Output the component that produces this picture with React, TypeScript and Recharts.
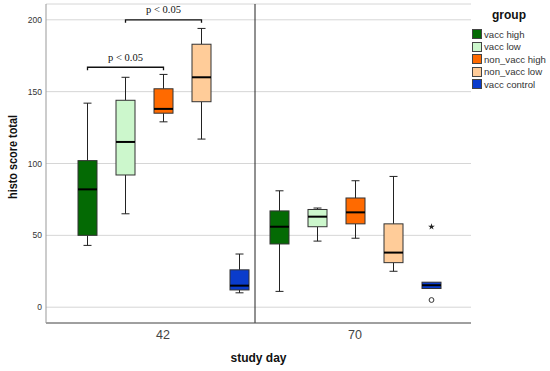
import { Bar, CartesianGrid, ComposedChart, Label, ReferenceLine, Symbols, XAxis, YAxis } from "recharts"

const days = ["42", "70"]
const groups = ["vacc high", "vacc low", "non_vacc high", "non_vacc low", "vacc control"]
const groupColors = ["#046a04", "#ccf7cc", "#ff6a00", "#ffcc99", "#0a3ccc"]

// [min, q1, median, q3, max], one entry per study day
const vaccHigh = [[43, 50, 82, 102, 142], [11, 44, 56, 67, 81]]
const vaccLow = [[65, 92, 115, 144, 160], [46, 56, 63, 68, 69]]
const nonVaccHigh = [[129, 135, 138, 152, 162], [48, 58, 66, 76, 88]]
const nonVaccLow = [[117, 143, 160, 183, 194], [25, 31, 38, 58, 91]]
const vaccControl = [[10, 12, 15, 26, 37], [13, 13, 15.3, 17.4, 17.4]]
const boxStats = [vaccHigh, vaccLow, nonVaccHigh, nonVaccLow, vaccControl]

const outliers = [
  { group: 4, day: "70", value: 5, kind: "circle" },
  { group: 4, day: "70", value: 56, kind: "star" },
]

const brackets = [
  { day: "42", from: 0, to: 2, value: 167, label: "p < 0.05" },
  { day: "42", from: 1, to: 3, value: 200, label: "p < 0.05" },
]

const yTicks = [0, 50, 100, 150, 200]

const BAR_SIZE = 19
const BAR_GAP = 19
const SANS = "'Liberation Sans', Arial, sans-serif"

const rows = days.map((day, d) => {
  const row: any = { day }
  boxStats.forEach((stats, g) => {
    const s = stats[d]
    const extra = outliers.filter((o) => o.group === g && o.day === day).map((o) => o.value)
    row[`g${g}`] = s
    row[`r${g}`] = [Math.min(s[0], ...extra), Math.max(s[4], ...extra)]
  })
  return row
})

const makeBoxShape = (g: number) => (props: any) => {
  const { x, y, width, height, payload } = props
  const [lo, hi] = payload[`r${g}`]
  const [mn, q1, med, q3, mx] = payload[`g${g}`]
  const top = Math.min(y, y + height)
  const h = Math.abs(height)
  const yOf = (v: number) => top + ((hi - v) * h) / (hi - lo)
  const cx = x + width / 2
  const cap = 4
  const pts = outliers.filter((o) => o.group === g && o.day === payload.day)
  const marks = brackets.filter((b) => b.from === g && b.day === payload.day)
  return (
    <g>
      {mx > q3 && (
        <g stroke="#222" strokeWidth={1}>
          <line x1={cx} x2={cx} y1={yOf(mx)} y2={yOf(q3)} />
          <line x1={cx - cap} x2={cx + cap} y1={yOf(mx)} y2={yOf(mx)} />
        </g>
      )}
      {mn < q1 && (
        <g stroke="#222" strokeWidth={1}>
          <line x1={cx} x2={cx} y1={yOf(q1)} y2={yOf(mn)} />
          <line x1={cx - cap} x2={cx + cap} y1={yOf(mn)} y2={yOf(mn)} />
        </g>
      )}
      <rect
        x={x}
        y={yOf(q3)}
        width={width}
        height={yOf(q1) - yOf(q3)}
        fill={groupColors[g]}
        stroke="#333"
        strokeWidth={1}
      />
      <line x1={x} x2={x + width} y1={yOf(med)} y2={yOf(med)} stroke="#000" strokeWidth={2} />
      {pts.map((o, i) =>
        o.kind === "circle" ? (
          <circle key={i} cx={cx} cy={yOf(o.value)} r={2.4} fill="#fff" stroke="#333" strokeWidth={1} />
        ) : (
          <Symbols key={i} type="star" size={14} cx={cx} cy={yOf(o.value)} fill="#222" />
        )
      )}
      {marks.map((b, i) => {
        const x2 = cx + (b.to - b.from) * (width + BAR_GAP)
        const by = yOf(b.value)
        return (
          <g key={i}>
            <path
              d={`M${cx},${by + 3}V${by}H${x2}V${by + 3}`}
              fill="none"
              stroke="#111"
              strokeWidth={1.3}
            />
            <text
              x={(cx + x2) / 2}
              y={by - 6.5}
              textAnchor="middle"
              fontSize={10.5}
              fontFamily="'Liberation Serif', 'Times New Roman', serif"
              fill="#111"
            >
              {b.label}
            </text>
          </g>
        )
      })}
    </g>
  )
}

// the day divider sits a little left of the band boundary in the original
const DividerLine = (p: any) => (
  <line x1={p.x1 - 4} y1={p.y1} x2={p.x2 - 4} y2={p.y2} stroke="#222" strokeWidth={1} />
)

function YTitle(props: any) {
  const vb = props.viewBox
  const x = vb.x + 17
  const y = vb.y + vb.height / 2 - 6.5
  return (
    <text
      x={x}
      y={y}
      transform={`rotate(-90, ${x}, ${y})`}
      textAnchor="middle"
      fontSize={12}
      fontWeight="bold"
      fontFamily={SANS}
      fill="#111"
      textLength={84}
      lengthAdjust="spacingAndGlyphs"
    >
      histo score total
    </text>
  )
}

function GroupLegend() {
  return (
    <div
      style={{
        position: "absolute",
        left: 472,
        top: 6,
        fontFamily: SANS,
        color: "#333",
      }}
    >
      <div style={{ fontWeight: "bold", fontSize: 12, color: "#111", marginLeft: 20, height: 22, lineHeight: "18px" }}>
        group
      </div>
      {groups.map((name, g) => (
        <div key={name} style={{ display: "flex", alignItems: "center", height: 12.5 }}>
          <span
            style={{
              width: 8,
              height: 8,
              background: groupColors[g],
              border: "1px solid #444",
              marginRight: 2,
              flexShrink: 0,
            }}
          />
          <span style={{ fontSize: 9.6, whiteSpace: "nowrap" }}>{name}</span>
        </div>
      ))}
    </div>
  )
}

export default function App() {
  return (
    <div style={{ position: "absolute", left: 0, top: 0, width: 550, height: 371, background: "#fff" }}>
      <ComposedChart
        width={550}
        height={371}
        data={rows}
        margin={{ top: 4, right: 79, left: 0, bottom: 0 }}
        barSize={BAR_SIZE}
        barGap={BAR_GAP}
      >
        <CartesianGrid vertical={false} stroke="#d6d6d6" strokeWidth={1} />
        <XAxis
          dataKey="day"
          height={48}
          padding={{ left: 21, right: 20 }}
          tickLine={false}
          tickSize={0}
          tickMargin={7}
          stroke="#555"
          tick={{ fontSize: 12.5, fill: "#444", fontFamily: SANS }}
        >
          <Label
            value="study day"
            position="insideBottom"
            offset={9}
            style={{ fontSize: 12, fontWeight: "bold", fill: "#111", fontFamily: SANS }}
          />
        </XAxis>
        <YAxis
          width={46}
          domain={[-11, 211]}
          ticks={yTicks}
          tickLine={false}
          tickSize={0}
          tickMargin={4}
          stroke="#999"
          tick={{ fontSize: 8.5, fill: "#333", fontFamily: SANS }}
        >
          <Label content={<YTitle />} />
        </YAxis>
        <ReferenceLine x="70" position="start" shape={DividerLine} />
        {groups.map((name, g) => (
          <Bar
            key={name}
            dataKey={`r${g}`}
            name={name}
            fill={groupColors[g]}
            shape={makeBoxShape(g)}
            isAnimationActive={false}
          />
        ))}
      </ComposedChart>
      <GroupLegend />
    </div>
  )
}
